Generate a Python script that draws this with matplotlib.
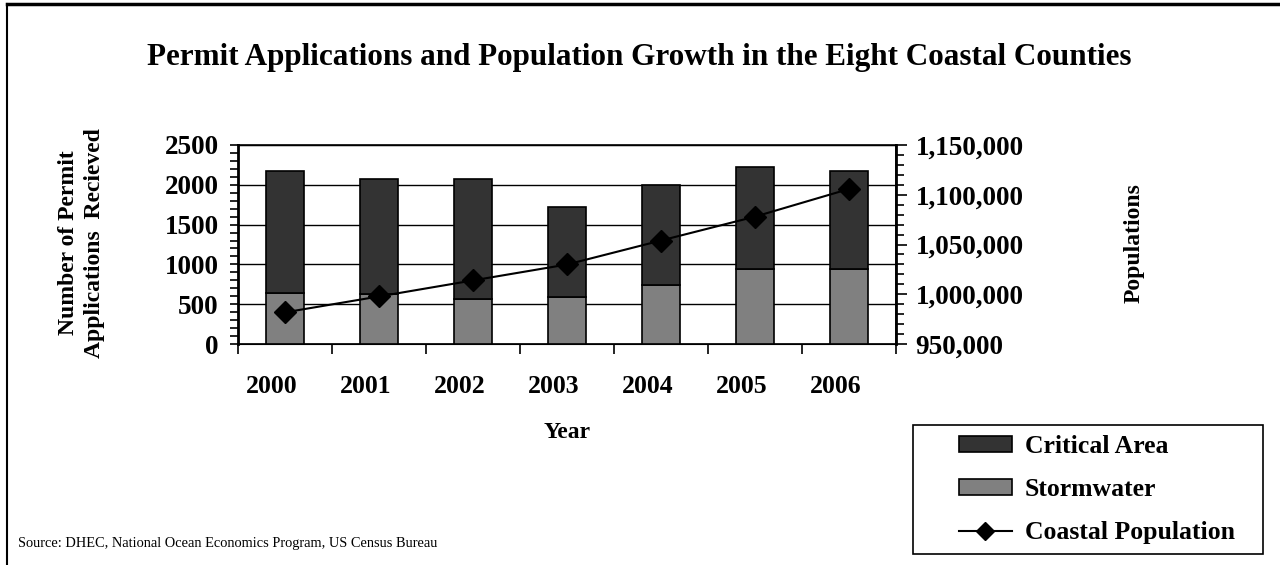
import matplotlib
matplotlib.use("Agg")
import matplotlib.pyplot as plt
from matplotlib.ticker import MultipleLocator, FuncFormatter
from matplotlib.lines import Line2D
from matplotlib.patches import Patch, Rectangle
from matplotlib.transforms import ScaledTranslation

plt.rcParams['font.family'] = ['Liberation Serif', 'DejaVu Serif']

years = ['2000', '2001', '2002', '2003', '2004', '2005', '2006']
stormwater = [642, 622, 571, 592, 746, 946, 946]
critical_area = [1530, 1450, 1502, 1130, 1248, 1276, 1226]
population = [981800, 997800, 1013900, 1029900, 1054000, 1078000, 1105800]

W, H = 1280, 565
fig = plt.figure(figsize=(W / 100, H / 100), dpi=100)

def fx(px):
    return px / W

def fy(py):
    return 1 - py / H

ax = fig.add_axes([fx(238), fy(344), fx(896) - fx(238), fy(145) - fy(344)])

x = list(range(len(years)))
dark = '#333333'
gray = '#808080'
ax.bar(x, stormwater, width=0.41, color=gray, edgecolor='black', linewidth=1.2, zorder=3)
ax.bar(x, critical_area, bottom=stormwater, width=0.41, color=dark,
       edgecolor='black', linewidth=1.2, zorder=3)

ax.set_xlim(-0.5, len(years) - 0.5)
ax.set_ylim(0, 2500)
ax.yaxis.set_major_locator(MultipleLocator(500))
ax.yaxis.set_minor_locator(MultipleLocator(100))
ax.grid(axis='y', which='major', color='black', linewidth=1.0, zorder=1)
ax.set_axisbelow(True)

ax.set_xticks(x)
ax.set_xticklabels(years)
ax.set_xticks([i - 0.5 for i in range(len(years) + 1)], minor=True)
ax.tick_params(axis='x', which='major', length=0, pad=22, labelsize=18.5)
ax.tick_params(axis='x', which='minor', length=7, width=1.2, direction='out')
ax.tick_params(axis='y', which='both', direction='out', length=6, width=1.2,
               labelsize=19.5, pad=8)
shift = ScaledTranslation(-13 / 100, 0, fig.dpi_scale_trans)
for lbl in ax.get_xticklabels():
    lbl.set_transform(lbl.get_transform() + shift)
for lbl in ax.get_xticklabels() + ax.get_yticklabels():
    lbl.set_fontweight('bold')

for s in ax.spines.values():
    s.set_linewidth(1.2)
ax.spines['left'].set_linewidth(2.0)

ax2 = ax.twinx()
ax2.plot(x, population, color='black', linewidth=1.5, marker='D', markersize=11,
         markerfacecolor='black', markeredgecolor='black', zorder=5)
ax2.set_ylim(950000, 1150000)
ax2.yaxis.set_major_locator(MultipleLocator(50000))
ax2.yaxis.set_minor_locator(MultipleLocator(10000))
ax2.yaxis.set_major_formatter(FuncFormatter(lambda v, p: f'{int(v):,}'))
ax2.tick_params(axis='y', which='major', direction='out', length=8, width=1.2,
                labelsize=19.5, pad=6)
ax2.tick_params(axis='y', which='minor', direction='out', length=6, width=1.2)
for lbl in ax2.get_yticklabels():
    lbl.set_fontweight('bold')
ax2.spines['right'].set_linewidth(2.0)

# Titles and axis labels
fig.text(fx(639), fy(57), 'Permit Applications and Population Growth in the Eight Coastal Counties',
         ha='center', va='center', fontsize=22.4, fontweight='bold')
fig.text(fx(81.5), fy(243), 'Number of Permit\nApplications  Recieved', rotation=90,
         ha='center', va='center', fontsize=17, fontweight='bold', linespacing=1.35,
         multialignment='center')
fig.text(fx(1134), fy(243), 'Populations', rotation=90, ha='center', va='center',
         fontsize=17, fontweight='bold')
fig.text(fx(567), fy(432), 'Year', ha='center', va='center', fontsize=17,
         fontweight='bold')
fig.text(fx(18), fy(543), 'Source: DHEC, National Ocean Economics Program, US Census Bureau',
         ha='left', va='center', fontsize=10.4)

# Legend
handles = [
    Patch(facecolor=dark, edgecolor='black', linewidth=1.2),
    Patch(facecolor=gray, edgecolor='black', linewidth=1.2),
    Line2D([0], [0], color='black', linewidth=1.5, marker='D', markersize=9,
           markerfacecolor='black'),
]
leg = fig.legend(handles, ['Critical Area', 'Stormwater', 'Coastal Population'],
                 loc='upper left', bbox_to_anchor=(fx(959), fy(435)),
                 frameon=False, prop={'weight': 'bold', 'size': 18.5},
                 handlelength=2.05, handleheight=0.55, handletextpad=0.5,
                 labelspacing=0.78, borderpad=0, borderaxespad=0)
fig.add_artist(Rectangle((fx(913), fy(554)), fx(1263) - fx(913), fy(425) - fy(554),
                         transform=fig.transFigure, facecolor='none',
                         edgecolor='black', linewidth=1.2))

# Page frame edges
fig.add_artist(Line2D([fx(7), fx(7)], [fy(4), 0], color='black', linewidth=1.5))
fig.add_artist(Line2D([fx(7), 1], [fy(4), fy(4)], color='black', linewidth=2.5))

fig.savefig('out.png', dpi=100)
